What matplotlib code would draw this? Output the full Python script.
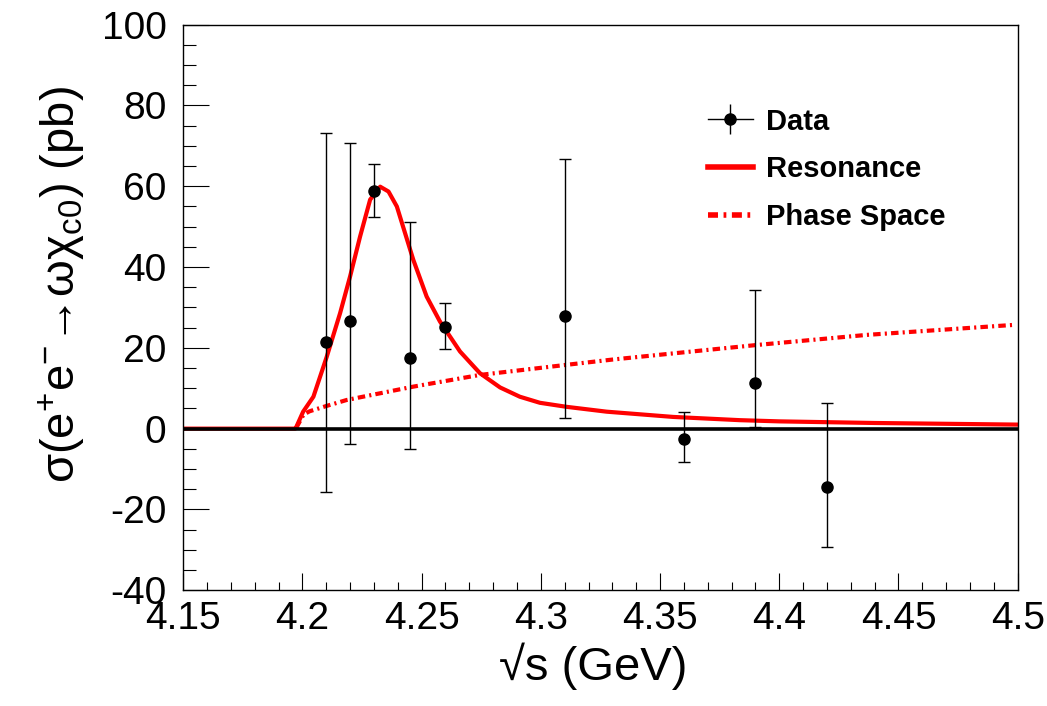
import numpy as np
import matplotlib
matplotlib.use("Agg")
import matplotlib.pyplot as plt
from matplotlib.lines import Line2D
from matplotlib.legend_handler import HandlerTuple
from matplotlib.ticker import MultipleLocator

plt.rcParams["font.family"] = ["Liberation Sans", "DejaVu Sans"]
plt.rcParams["mathtext.fontset"] = "custom"
plt.rcParams["mathtext.rm"] = "Liberation Sans"
plt.rcParams["mathtext.it"] = "Liberation Sans"
plt.rcParams["mathtext.bf"] = "Liberation Sans:bold"
plt.rcParams["axes.unicode_minus"] = False

# measured cross sections
energy = [4.21, 4.22, 4.23, 4.245, 4.26, 4.31, 4.36, 4.39, 4.42]
xsec = [21.5, 26.7, 58.9, 17.4, 25.2, 27.8, -2.6, 11.2, -14.4]
err_up = [51.8, 43.9, 6.7, 33.8, 5.8, 38.9, 6.8, 23.1, 20.7]
err_down = [37.2, 30.5, 6.4, 22.5, 5.6, 25.2, 5.6, 10.8, 14.8]

# resonance fit curve
res_x = [4.15, 4.197, 4.1975, 4.2003, 4.2046, 4.2102, 4.2158, 4.22, 4.2242,
         4.2284, 4.2326, 4.2361, 4.2396, 4.2465, 4.2521, 4.2577, 4.2661,
         4.2745, 4.2829, 4.2912, 4.2996, 4.3108, 4.3276, 4.3555, 4.3834,
         4.40, 4.44, 4.50]
res_y = [0.0, 0.0, 0.5, 4.2, 7.9, 17.8, 28.6, 37.7, 47.6,
         56.7, 59.9, 58.7, 55.0, 41.8, 32.7, 26.5, 19.1,
         13.7, 10.2, 7.9, 6.4, 5.4, 4.2, 2.9, 2.1,
         1.8, 1.4, 1.0]

# phase space curve
ps_x = [4.1975, 4.2005, 4.203, 4.21, 4.2186, 4.2465, 4.2745, 4.3108,
        4.33, 4.3667, 4.3904, 4.4365, 4.4987]
ps_y = [0.3, 3.5, 4.3, 5.6, 7.1, 10.4, 13.3, 15.8,
        17.1, 19.3, 20.7, 23.2, 25.7]

tick_pos = [4.15, 4.2, 4.25, 4.3, 4.35, 4.4, 4.45, 4.5]
tick_lab = ["4.15", "4.2", "4.25", "4.3", "4.35", "4.4", "4.45", "4.5"]

fig = plt.figure(figsize=(10.47, 7.06), dpi=100)
ax = fig.add_axes([0.175, 0.164, 0.797, 0.801])

ax.plot(res_x, res_y, color="red", lw=3, zorder=2, label="Resonance")
ax.plot(ps_x, ps_y, color="red", lw=3, zorder=2,
        dashes=(1.8, 1.0, 0.5, 1.0), label="Phase Space")
ax.axhline(0, color="black", lw=2.6, zorder=2.5)

eb = ax.errorbar(energy, xsec, yerr=[err_down, err_up], fmt="o", color="black",
                 ms=8, elinewidth=1, capsize=4, capthick=1, zorder=4)

ax.set_xlim(4.15, 4.5)
ax.set_ylim(-40, 100)
ax.set_xticks(tick_pos)
ax.set_xticklabels(tick_lab)
ax.xaxis.set_minor_locator(MultipleLocator(0.01))
ax.yaxis.set_major_locator(MultipleLocator(20))
ax.yaxis.set_minor_locator(MultipleLocator(5))

ax.tick_params(which="both", direction="in", top=False, right=False, width=0.8)
ax.tick_params(axis="y", which="major", length=19, labelsize=28, pad=12)
ax.tick_params(axis="y", which="minor", length=9)
ax.tick_params(axis="x", which="major", length=12.5, labelsize=28, pad=8)
ax.tick_params(axis="x", which="minor", length=6)

for sp in ax.spines.values():
    sp.set_linewidth(1)

ax.set_ylabel("σ(e$^{+}$e$^{-}$→ωχ$_{c0}$) (pb)", fontsize=34)
ax.yaxis.set_label_coords(-0.115, 0.54)
ax.set_xlabel("√s (GeV)", fontsize=34)
ax.xaxis.set_label_coords(0.491, -0.092)

data_handle = (Line2D([], [], color="black", lw=1),
               Line2D([], [], color="black", marker="|", ms=22, mew=1, ls="none"),
               Line2D([], [], color="black", marker="o", ms=8, ls="none"))
res_handle = Line2D([], [], color="red", lw=4)
ps_handle = Line2D([], [], color="red", lw=4, dashes=(1.8, 1.0, 0.5, 1.0))
ax.legend([data_handle, res_handle, ps_handle], ["Data", "Resonance", "Phase Space"],
          handler_map={tuple: HandlerTuple(ndivide=1)},
          loc="upper left", bbox_to_anchor=(0.597, 0.9), frameon=False,
          prop={"size": 21, "weight": "bold"}, handlelength=1.55,
          handletextpad=0.45, labelspacing=0.68)

fig.savefig("out.png", dpi=100)
